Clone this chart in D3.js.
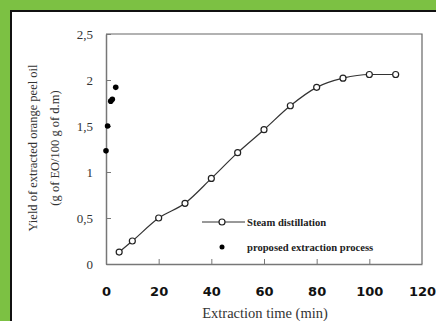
<!DOCTYPE html>
<html>
<head>
<meta charset="utf-8">
<script src="https://cdn.jsdelivr.net/npm/d3@7"></script>
<style>
  body { margin: 0; background: #7cc143; }
  svg { display: block; }
</style>
</head>
<body>
<script>
// Data ////////////////////////////////////////////////////////////////////

const steamTime = [5, 10, 20, 30, 40, 50, 60, 70, 80, 90, 100, 110];
const steamYield = [0.13, 0.25, 0.5, 0.66, 0.93, 1.21, 1.46, 1.72, 1.92, 2.02, 2.06, 2.06];

const proposedTime = [0, 0.6, 1.8, 2.4, 3.7];
const proposedYield = [1.23, 1.5, 1.77, 1.79, 1.92];

const xTicks = [0, 20, 40, 60, 80, 100, 120];
const yTicks = [0, 0.5, 1, 1.5, 2, 2.5];

const legendLabels = ["Steam distillation", "proposed extraction process"];

// Layout //////////////////////////////////////////////////////////////////

const width = 436;
const height = 321;
const plot = { left: 106, right: 422, top: 34, bottom: 264 };

const svg = d3
  .select("body")
  .append("svg")
  .attr("width", width)
  .attr("height", height);

// white panel with black border, cut off at right and bottom
svg
  .append("rect")
  .attr("x", 11)
  .attr("y", 11)
  .attr("width", width)
  .attr("height", height)
  .attr("fill", "#fff")
  .attr("stroke", "#111")
  .attr("stroke-width", 2);

const x = d3.scaleLinear().domain([0, 120]).range([plot.left, plot.right]);
const y = d3.scaleLinear().domain([0, 2.5]).range([plot.bottom, plot.top]);

// frame (top and right)
svg
  .append("path")
  .attr("d", `M${plot.left},${plot.top}H${plot.right}V${plot.bottom}`)
  .attr("fill", "none")
  .attr("stroke", "#666")
  .attr("stroke-width", 1.2);

// Axes ////////////////////////////////////////////////////////////////////

const yAxis = svg
  .append("g")
  .attr("transform", `translate(${plot.left},0)`)
  .call(
    d3
      .axisLeft(y)
      .tickValues(yTicks)
      .tickSizeInner(-5)
      .tickSizeOuter(0)
      .tickPadding(13)
      .tickFormat((d) => String(d).replace(".", ","))
  );
yAxis.select(".domain").attr("stroke", "#777").attr("stroke-width", 1.5);
yAxis.selectAll(".tick line").attr("stroke", "#777");
yAxis
  .selectAll("text")
  .attr("font-family", "Liberation Serif")
  .attr("font-size", 13)
  .attr("fill", "#333");

const xAxis = svg
  .append("g")
  .attr("transform", `translate(0,${plot.bottom})`)
  .call(
    d3
      .axisBottom(x)
      .tickValues(xTicks)
      .tickSizeInner(-5)
      .tickSizeOuter(0)
      .tickPadding(23)
  );
xAxis.select(".domain").attr("stroke", "#777").attr("stroke-width", 1.5);
xAxis
  .selectAll(".tick line")
  .attr("stroke", "#777")
  .attr("opacity", (d) => (d === 0 || d === 120 ? 0 : 1));
xAxis
  .selectAll("text")
  .attr("font-family", "DejaVu Sans")
  .attr("font-weight", "bold")
  .attr("font-size", 13)
  .attr("fill", "#111");

// Titles //////////////////////////////////////////////////////////////////

svg
  .append("text")
  .text("Extraction time (min)")
  .attr("x", 265)
  .attr("y", 318)
  .attr("text-anchor", "middle")
  .attr("font-family", "Liberation Serif")
  .attr("font-size", 14.5)
  .attr("fill", "#333");

const yTitle = svg
  .append("g")
  .attr("transform", "translate(44,148) rotate(-90)")
  .attr("font-family", "Liberation Serif")
  .attr("font-size", 12.5)
  .attr("fill", "#333")
  .attr("text-anchor", "middle");
yTitle.append("text").text("Yield of extracted orange peel oil").attr("y", -7);
yTitle.append("text").text("(g of EO/100 g of d.m)").attr("y", 15);

// Series //////////////////////////////////////////////////////////////////

const steam = steamTime.map((t, i) => [t, steamYield[i]]);
const proposed = proposedTime.map((t, i) => [t, proposedYield[i]]);

svg
  .append("path")
  .datum(steam)
  .attr("fill", "none")
  .attr("stroke", "#333")
  .attr("stroke-width", 1.2)
  .attr("d", d3.line().x((d) => x(d[0])).y((d) => y(d[1])).curve(d3.curveMonotoneX));

svg
  .append("g")
  .selectAll("circle")
  .data(steam)
  .join("circle")
  .attr("cx", (d) => x(d[0]))
  .attr("cy", (d) => y(d[1]))
  .attr("r", 3)
  .attr("fill", "#fff")
  .attr("stroke", "#222")
  .attr("stroke-width", 1.2);

svg
  .append("g")
  .selectAll("circle")
  .data(proposed)
  .join("circle")
  .attr("cx", (d) => x(d[0]))
  .attr("cy", (d) => y(d[1]))
  .attr("r", 2.8)
  .attr("fill", "#000");

// Legend //////////////////////////////////////////////////////////////////

const legend = svg
  .append("g")
  .attr("font-family", "Liberation Serif")
  .attr("font-weight", "bold")
  .attr("font-size", 10.6)
  .attr("fill", "#222");

legend
  .append("line")
  .attr("x1", 202)
  .attr("x2", 245)
  .attr("y1", 222)
  .attr("y2", 222)
  .attr("stroke", "#333");
legend
  .append("circle")
  .attr("cx", 222)
  .attr("cy", 222)
  .attr("r", 3)
  .attr("fill", "#fff")
  .attr("stroke", "#222")
  .attr("stroke-width", 1.2);
legend
  .append("circle")
  .attr("cx", 222)
  .attr("cy", 247)
  .attr("r", 2.5)
  .attr("fill", "#000");

legend
  .selectAll(".label")
  .data(legendLabels)
  .join("text")
  .attr("class", "label")
  .text((d) => d)
  .attr("x", 247)
  .attr("y", (_, i) => 225.5 + i * 25);
</script>
</body>
</html>
